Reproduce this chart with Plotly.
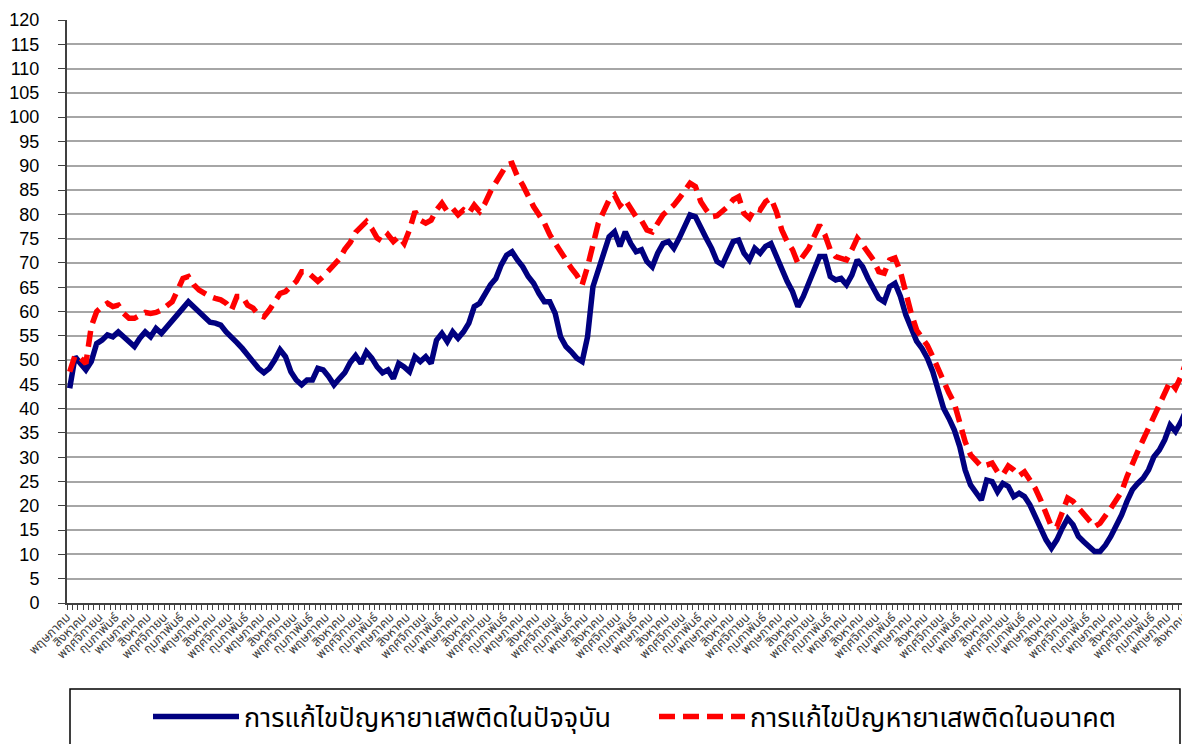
import plotly.graph_objects as go

# ---- data -------------------------------------------------------------
month_cycle = ["พฤษภาคม", "มิถุนายน", "กรกฎาคม", "สิงหาคม", "กันยายน", "ตุลาคม",
               "พฤศจิกายน", "ธันวาคม", "มกราคม", "กุมภาพันธ์", "มีนาคม", "เมษายน"]

current = [
    44.2, 50.7, 49.3, 48.0, 49.7, 53.4, 54.1, 55.2, 54.8, 55.8,
    54.8, 53.8, 52.8, 54.5, 55.8, 54.8, 56.5, 55.5, 56.9, 58.3,
    59.6, 60.7, 62.0, 61.0, 60.0, 58.9, 57.8, 57.6, 57.2, 55.8,
    54.5, 53.6, 52.4, 51.0, 49.7, 48.3, 47.4, 48.3, 50.0, 52.1,
    50.7, 47.6, 45.9, 44.9, 45.9, 45.9, 48.3, 48.0, 46.6, 44.9,
    46.2, 47.4, 49.5, 50.9, 49.3, 51.7, 50.4, 48.6, 47.4, 48.0,
    46.2, 49.3, 48.6, 47.6, 50.7, 49.7, 50.7, 49.3, 54.1, 55.5,
    53.8, 55.8, 54.5, 55.8, 57.6, 61.0, 61.7, 63.7, 65.5, 66.8,
    69.6, 71.6, 72.3, 70.6, 69.2, 67.2, 65.8, 63.7, 62.0, 62.0,
    59.6, 54.8, 52.8, 51.7, 50.4, 49.7, 54.8, 65.1, 68.6, 72.0,
    75.4, 76.4, 73.4, 76.4, 74.0, 72.3, 72.7, 70.3, 69.2, 72.0,
    74.0, 74.4, 73.0, 75.1, 77.5, 79.9, 79.5, 77.1, 75.1, 73.0,
    70.3, 69.6, 72.3, 74.4, 74.7, 72.0, 70.6, 73.0, 72.0, 73.4,
    74.0, 71.3, 68.2, 66.2, 64.1, 61.0, 63.1, 65.8, 69.2, 71.3,
    71.3, 67.2, 66.5, 66.8, 65.5, 67.5, 70.6, 69.2, 66.8, 64.8,
    62.7, 62.0, 65.1, 65.8, 63.1, 59.3, 56.2, 53.9, 52.4, 50.4,
    47.6, 44.2, 40.1, 38.0, 35.6, 32.2, 27.4, 24.3, 22.6, 21.2,
    25.3, 25.0, 22.9, 24.6, 24.0, 21.9, 22.6, 21.9, 20.2, 17.8,
    15.4, 13.0, 11.3, 13.0, 15.4, 17.4, 16.1, 13.7, 12.6, 11.7,
    10.6, 10.6, 11.9, 13.7, 15.7, 18.1, 20.9, 23.3, 24.6, 25.7,
    27.4, 30.1, 31.5, 33.6, 36.6, 35.3, 37.3, 39.7,
]

future = [
    47.6, 51.0, 50.4, 49.3, 56.9, 60.0, 61.0, 61.7, 61.0, 61.3,
    59.6, 58.6, 58.6, 59.3, 59.8, 59.6, 59.8, 60.3, 61.1, 62.0,
    64.4, 66.8, 67.2, 65.5, 64.4, 63.7, 63.1, 62.7, 62.4, 61.7,
    60.3, 63.1, 63.1, 61.3, 60.7, 59.3, 58.9, 60.3, 62.0, 63.7,
    64.1, 65.1, 66.2, 68.2, 68.2, 67.2, 66.2, 67.2, 68.5, 69.9,
    70.8, 72.8, 74.2, 76.3, 77.5, 78.5, 77.1, 75.1, 74.4, 75.8,
    74.4, 75.4, 74.0, 76.8, 80.6, 78.8, 78.2, 78.8, 80.9, 82.3,
    80.6, 81.2, 79.9, 80.9, 80.2, 81.9, 80.6, 82.3, 84.7, 86.4,
    88.5, 90.2, 90.5, 87.8, 86.0, 83.6, 81.6, 79.9, 78.2, 75.8,
    74.0, 72.0, 70.3, 68.9, 67.5, 65.5, 69.2, 74.0, 78.2, 80.6,
    83.0, 84.0, 81.8, 83.0, 81.1, 79.5, 78.7, 76.8, 76.4, 78.2,
    79.9, 80.9, 81.9, 83.3, 85.0, 86.4, 85.7, 82.6, 80.9, 79.5,
    79.7, 80.6, 81.6, 83.0, 83.6, 80.2, 79.2, 81.2, 80.9, 82.6,
    83.3, 80.6, 76.8, 74.4, 72.7, 69.9, 71.3, 73.0, 75.4, 77.8,
    75.8, 72.7, 71.3, 71.0, 70.6, 72.7, 75.1, 73.7, 72.3, 70.6,
    68.2, 67.9, 70.6, 71.0, 68.2, 63.7, 59.6, 56.2, 54.7, 53.0,
    50.7, 48.0, 45.6, 43.2, 41.1, 37.3, 33.2, 30.5, 29.4, 28.1,
    28.4, 28.8, 27.0, 26.4, 28.2, 27.4, 26.2, 27.0, 25.3, 23.6,
    21.2, 18.5, 15.7, 15.7, 18.5, 21.6, 20.9, 19.5, 18.1, 16.8,
    15.7, 16.4, 17.8, 19.5, 21.2, 22.9, 26.0, 28.8, 31.2, 33.6,
    36.0, 38.7, 40.8, 43.5, 45.6, 44.2, 46.6, 49.7,
]

series_names = ["การแก้ไขปัญหายาเสพติดในปัจจุบัน", "การแก้ไขปัญหายาเสพติดในอนาคต"]

# categories: one per month, starting in May
categories = [f"{month_cycle[i % 12]} #{i // 12 + 1}" for i in range(len(current))]
# tick labels shown every third month
tick_text = [month_cycle[i % 12] if i % 3 == 0 else "" for i in range(len(current))]

# ---- figure -----------------------------------------------------------
# The page body has an 8px default margin, so the figure is drawn 8px in
# from the window's top-left corner; size and positions account for that.
OFF = 8
WIN_W, WIN_H = 1190, 744
W, H = WIN_W - OFF, WIN_H - OFF
PLOT_L, PLOT_R, PLOT_T, PLOT_B = 67, 1189, 20, 603   # window pixels
ML = PLOT_L - OFF
MR = W - (PLOT_R - OFF)
MT = PLOT_T - OFF
MB = H - (PLOT_B - OFF)
plot_w = PLOT_R - PLOT_L
plot_h = PLOT_B - PLOT_T

def px_x(x):
    return (x - PLOT_L) / plot_w

def px_y(y):
    return (PLOT_B - y) / plot_h

thai_font = "Tahoma, 'Noto Sans Thai', 'Leelawadee UI', 'Loma', 'Garuda', sans-serif"

fig = go.Figure()
fig.add_trace(go.Scatter(
    x=categories, y=current, name=series_names[0], mode="lines",
    line=dict(color="#000080", width=5.5),
))
fig.add_trace(go.Scatter(
    x=categories, y=future, name=series_names[1], mode="lines",
    line=dict(color="#FF0000", width=5.5, dash="16px,8px"),
))

fig.update_layout(
    width=W, height=H,
    margin=dict(l=ML, r=MR, t=MT, b=MB, pad=0, autoexpand=False),
    paper_bgcolor="white", plot_bgcolor="white",
    showlegend=True,
    legend=dict(
        orientation="h",
        x=px_x(148), xanchor="left",
        y=px_y(717), yanchor="middle",
        font=dict(family=thai_font, size=27, color="#000000"),
        itemwidth=86,
        entrywidth=405,
        bgcolor="rgba(0,0,0,0)",
        borderwidth=0,
    ),
    shapes=[dict(
        type="rect", xref="paper", yref="paper",
        x0=px_x(70), x1=px_x(1180), y0=px_y(689), y1=px_y(770),
        line=dict(color="#000000", width=1.5), fillcolor="rgba(0,0,0,0)",
        layer="below",
    )],
)

fig.update_xaxes(
    type="category", automargin=False,
    tickmode="array", tickvals=categories, ticktext=tick_text,
    tickson="boundaries",
    ticks="outside", ticklen=5, tickwidth=1, tickcolor="#404040",
    tickangle=-45, ticklabelshift=-3,
    tickfont=dict(family=thai_font, size=12.5, color="#404040"),
    showline=True, linecolor="#404040", linewidth=2,
    showgrid=False, zeroline=False,
    range=[-0.5, len(categories) - 0.5],
)
fig.update_yaxes(
    automargin=False,
    range=[0, 120], dtick=5, tick0=0,
    ticks="outside", ticklen=7, tickwidth=1, tickcolor="#404040",
    ticklabelstandoff=15,
    tickfont=dict(family="Arial, 'Liberation Sans', sans-serif", size=18, color="#000000"),
    showline=True, linecolor="#404040", linewidth=2,
    showgrid=True, gridcolor="#A6A6A6", gridwidth=1.5,
    zeroline=False,
)

fig.write_html("out.html")
